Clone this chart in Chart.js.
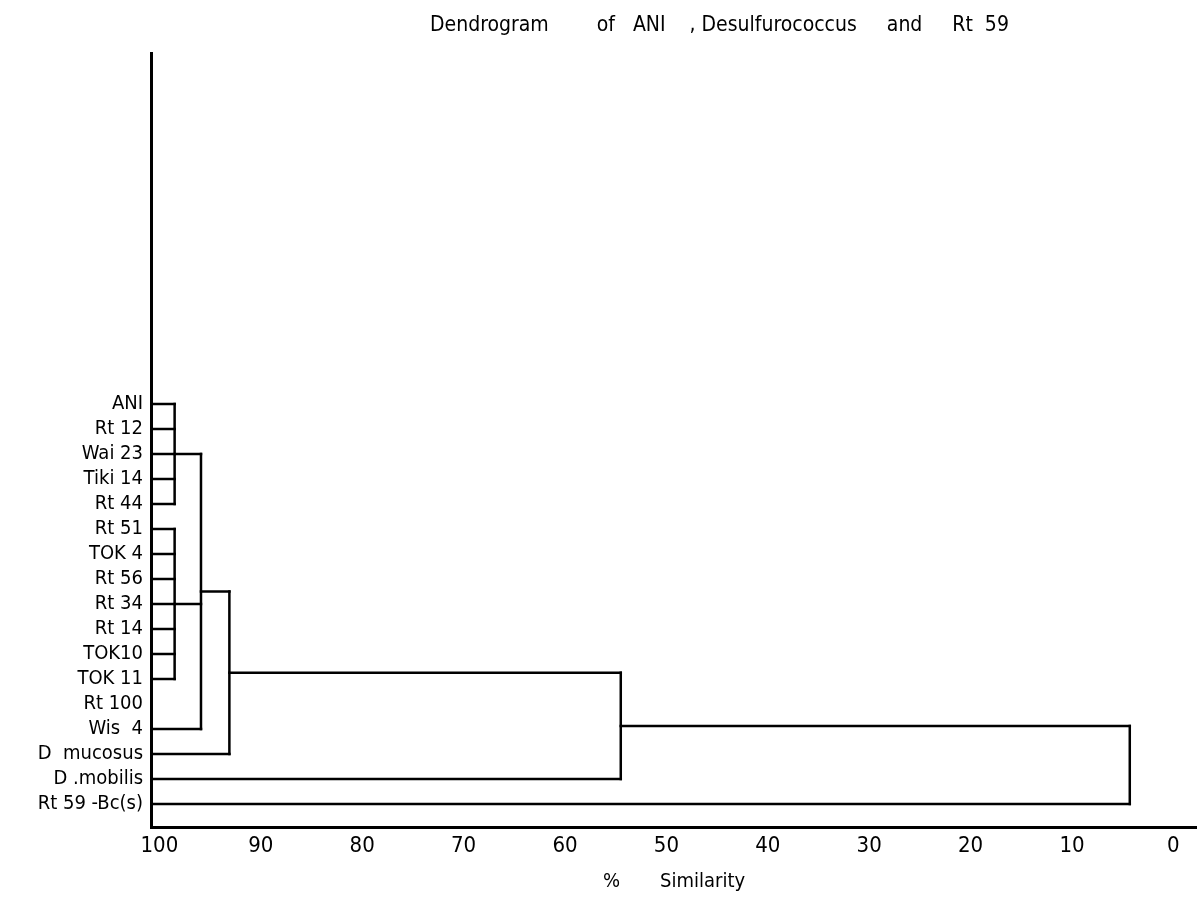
<!DOCTYPE html>
<html>
<head>
<meta charset="utf-8">
<title>Dendrogram</title>
<script src="https://cdn.jsdelivr.net/npm/chart.js@4.4.1/dist/chart.umd.min.js"></script>
<style>
  html, body { margin: 0; padding: 0; background: #fff; }
  #wrap { width: 1197px; height: 903px; }
</style>
</head>
<body>
<div id="wrap"><canvas id="dendro" width="1197" height="903"></canvas></div>
<script>
const leafNames = ['ANI', 'Rt 12', 'Wai 23', 'Tiki 14', 'Rt 44', 'Rt 51', 'TOK 4', 'Rt 56', 'Rt 34',
  'Rt 14', 'TOK10', 'TOK 11', 'Rt 100', 'Wis  4', 'D  mucosus', 'D .mobilis', 'Rt 59 -Bc(s)'];

// joins in order; a child is a leaf index or an earlier join ('c' + its index)
const joinChildren = [
  [0, 1, 2, 3, 4],
  [5, 6, 7, 8, 9, 10, 11],
  ['c0', 'c1', 13],
  ['c2', 14],
  ['c3', 15],
  ['c4', 16]
];
const joinSimilarity = [98.5, 98.5, 95.9, 93.1, 54.5, 4.3];

const xTicks = [100, 90, 80, 70, 60, 50, 40, 30, 20, 10, 0];

const FONT = "'DejaVu Sans Condensed', 'DejaVu Sans', sans-serif";
const X_MAX = 100.83;   // left axis line sits a little past 100
const X_MIN = -2.33;

// build the bracket segments
const nodes = {};
leafNames.forEach((name, i) => { nodes[i] = { x: X_MAX, y: i }; });
const segments = [];
joinChildren.forEach((kids, k) => {
  const lvl = joinSimilarity[k];
  const ys = kids.map(c => nodes[c].y);
  kids.forEach(c => {
    segments.push([{ x: nodes[c].x, y: nodes[c].y }, { x: lvl, y: nodes[c].y }]);
  });
  const lo = Math.min(...ys), hi = Math.max(...ys);
  segments.push([{ x: lvl, y: lo }, { x: lvl, y: hi }]);
  nodes['c' + k] = { x: lvl, y: (lo + hi) / 2 };
});

const datasets = segments.map(seg => ({
  data: seg,
  showLine: true,
  borderColor: '#000',
  borderWidth: 2.5,
  borderCapStyle: 'square',
  pointRadius: 0,
  pointHoverRadius: 0
}));

const whiteBg = {
  id: 'whiteBg',
  beforeDraw(chart) {
    const ctx = chart.ctx;
    ctx.save();
    ctx.fillStyle = '#fff';
    ctx.fillRect(0, 0, chart.width, chart.height);
    ctx.restore();
  }
};

const topTitle = {
  id: 'topTitle',
  afterDraw(chart) {
    const ctx = chart.ctx;
    ctx.save();
    ctx.fillStyle = '#000';
    ctx.font = '21px ' + FONT;
    ctx.textAlign = 'left';
    ctx.textBaseline = 'alphabetic';
    ctx.fillText('Dendrogram        of   ANI    , Desulfurococcus     and     Rt  59', 430, 31);
    ctx.restore();
  }
};

new Chart(document.getElementById('dendro').getContext('2d'), {
  type: 'scatter',
  data: { datasets },
  options: {
    responsive: false,
    animation: false,
    layout: { padding: { top: 53, left: 0, right: 0, bottom: 0 } },
    plugins: {
      legend: { display: false },
      tooltip: { enabled: false },
      title: { display: false }
    },
    scales: {
      x: {
        type: 'linear',
        reverse: true,
        min: X_MIN,
        max: X_MAX,
        afterBuildTicks: scale => { scale.ticks = xTicks.map(v => ({ value: v })); },
        afterFit: scale => { scale.height = 76; },
        grid: { display: false, drawTicks: false },
        border: { display: true, color: '#000', width: 3 },
        ticks: {
          color: '#000',
          padding: 6,
          maxRotation: 0,
          font: { family: FONT, size: 22 },
          callback: v => String(v)
        },
        title: {
          display: true,
          text: '%       Similarity',
          color: '#000',
          font: { family: FONT, size: 20 },
          padding: { top: 4, bottom: 9 }
        }
      },
      y: {
        type: 'linear',
        reverse: true,
        min: -14.04,
        max: 16.92,
        afterBuildTicks: scale => { scale.ticks = leafNames.map((n, i) => ({ value: i })); },
        afterFit: scale => { scale.width = 151; },
        grid: { display: false, drawTicks: false },
        border: { display: true, color: '#000', width: 3 },
        ticks: {
          color: '#000',
          padding: 8,
          autoSkip: false,
          font: { family: FONT, size: 20 },
          callback: v => leafNames[v]
        }
      }
    }
  },
  plugins: [whiteBg, topTitle]
});
</script>
</body>
</html>
